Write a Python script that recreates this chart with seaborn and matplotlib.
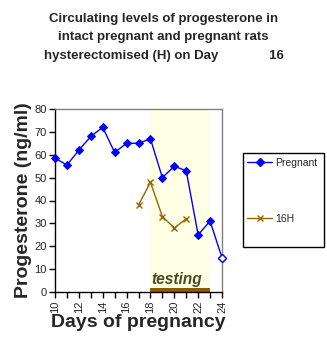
import matplotlib
matplotlib.use("Agg")
import matplotlib.pyplot as plt
import seaborn as sns
import pandas as pd
from matplotlib.lines import Line2D
from matplotlib.patches import Rectangle

days_preg = [10, 11, 12, 13, 14, 15, 16, 17, 18, 19, 20, 21, 22, 23, 24]
prog_preg = [58.5, 55.5, 62, 68, 72, 61, 65, 65, 67, 50, 55, 53, 25, 31, 15]
days_16h = [17, 18, 19, 20, 21]
prog_16h = [38, 48, 33, 28, 32]
testing_start, testing_end = 18, 23

sns.set_theme(style="white")
plt.rcParams['font.family'] = ['Liberation Sans', 'DejaVu Sans']

df_p = pd.DataFrame({"day": days_preg, "prog": prog_preg})
df_h = pd.DataFrame({"day": days_16h, "prog": prog_16h})

W, H = 327, 340
fig = plt.figure(figsize=(W / 100, H / 100), dpi=100)
ax = fig.add_axes([55 / W, 1 - 292 / H, (222 - 55) / W, (292 - 109) / H])

ax.axvspan(testing_start, testing_end, color="#FFFFE6", zorder=0, lw=0)

blue = "#0000FF"
brown = "#996600"
sns.lineplot(data=df_p, x="day", y="prog", ax=ax, color=blue, lw=1,
             marker="D", markersize=4.5, markeredgecolor=blue, zorder=3, clip_on=False)
ax.plot([days_preg[-1]], [prog_preg[-1]], marker="D", markersize=4.5,
        markerfacecolor="white", markeredgecolor=blue, ls="none", zorder=4, clip_on=False)
sns.lineplot(data=df_h, x="day", y="prog", ax=ax, color=brown, lw=1,
             marker="x", markersize=5, markeredgewidth=1, markeredgecolor=brown, zorder=3)

ax.fill_between([testing_start, testing_end], 0, 1.6, color="#8B5A00", zorder=2, lw=0)
ax.text(testing_start + 0.1, 2.2, "testing", fontsize=11.2, fontweight="bold",
        fontstyle="italic", color="#4A4A24", ha="left", va="bottom", zorder=5)

ax.set_xlim(10, 24)
ax.set_ylim(0, 80)
ax.set_xticks(range(10, 25, 2))
ax.set_xticks(range(10, 25), minor=True)
ax.set_xticklabels([str(d) for d in range(10, 25, 2)], rotation=90, fontsize=8)
ax.set_yticks(range(0, 81, 10))
ax.set_yticklabels([str(v) for v in range(0, 81, 10)], fontsize=8)
ax.tick_params(axis="x", which="both", direction="out", length=4, width=1,
               color="black", bottom=True, pad=2)
ax.tick_params(axis="y", direction="out", length=4, width=1, color="black", left=True, pad=2)

for s in ["left", "bottom"]:
    ax.spines[s].set_color("black")
    ax.spines[s].set_linewidth(1)
for s in ["top", "right"]:
    ax.spines[s].set_color("#808080")
    ax.spines[s].set_linewidth(1)

ax.set_xlabel("Days of pregnancy", fontsize=14, fontweight="bold", labelpad=1)
ax.set_ylabel("Progesterone (ng/ml)", fontsize=14, fontweight="bold", labelpad=2)

fig.text(0.5, 1 - 13 / H, "Circulating levels of progesterone in\nintact pregnant and pregnant rats\nhysterectomised (H) on Day              16",
         ha="center", va="top", fontsize=9.5, fontweight="bold", linespacing=1.7)

# legend frame
fig.patches.append(Rectangle((243 / W, 1 - 247 / H), (324 - 243) / W, (247 - 153) / H,
                             transform=fig.transFigure, fill=False, edgecolor="black", lw=1))
handles = [Line2D([0], [0], color=blue, marker="D", markersize=4, lw=1),
           Line2D([0], [0], color=brown, marker="x", markersize=4, lw=1)]
leg = fig.legend(handles, ["Pregnant", "16H"], loc="upper left",
                 bbox_to_anchor=(244 / W, 1 - 155 / H), frameon=False, fontsize=7.5,
                 labelspacing=4.4, handlelength=2.4, handletextpad=0.3,
                 borderpad=0.3, borderaxespad=0)

fig.savefig("out.png", dpi=100)
